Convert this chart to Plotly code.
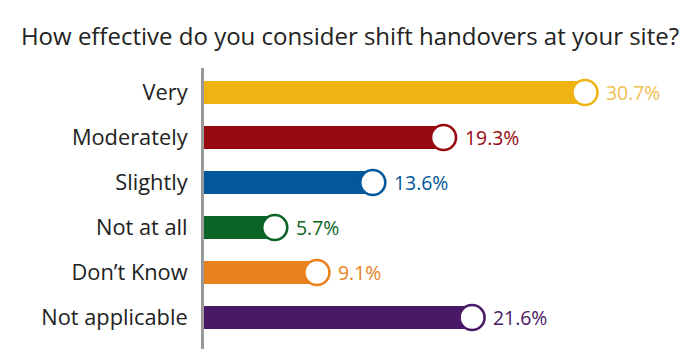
import plotly.graph_objects as go

categories = ["Very", "Moderately", "Slightly", "Not at all", "Don\u2019t Know", "Not applicable"]
values = [30.7, 19.3, 13.6, 5.7, 9.1, 21.6]
labels = ["30.7%", "19.3%", "13.6%", "5.7%", "9.1%", "21.6%"]
colors = ["#EFB313", "#970A10", "#03579B", "#0B6426", "#E8821E", "#491867"]
label_colors = ["#F2C052", "#970A10", "#03579B", "#0B6426", "#E8821E", "#491867"]

ypos = list(range(len(categories)))
FONT = "'Open Sans', sans-serif"

fig = go.Figure()
fig.add_trace(go.Bar(
    x=values, y=ypos, orientation="h", width=0.51,
    marker=dict(color=colors, line=dict(width=0)),
    hoverinfo="skip", showlegend=False,
))
fig.add_trace(go.Scatter(
    x=values, y=ypos, mode="markers",
    marker=dict(size=25, color="white", line=dict(color=colors, width=2.6)),
    hoverinfo="skip", showlegend=False, cliponaxis=False,
))
for v, y, t, c in zip(values, ypos, labels, label_colors):
    fig.add_annotation(x=v, y=y, text=t, showarrow=False, xanchor="left",
                       xshift=19, yshift=0, font=dict(size=19.4, color=c, family=FONT))

fig.update_layout(
    width=700, height=362,
    margin=dict(l=204, r=10, t=68, b=13),
    paper_bgcolor="white", plot_bgcolor="white",
    title=dict(text="How effective do you consider shift handovers at your site?",
               x=0.5, xanchor="center", y=0.9, yanchor="middle",
               xref="container",
               font=dict(size=24, color="#222222", family=FONT)),
    xaxis=dict(range=[0, 39.16], visible=False, fixedrange=True),
    yaxis=dict(range=[5.7, -0.544], tickmode="array", tickvals=ypos, ticktext=categories,
               showline=True, linecolor="#999999", linewidth=3, showgrid=False,
               zeroline=False, ticks="", ticklabelstandoff=9,
               tickfont=dict(size=21.8, color="#222222", family=FONT)),
    font=dict(family=FONT),
)
fig.write_html("out.html", config={"displayModeBar": False},
               post_script="document.body.style.margin='0px';")
